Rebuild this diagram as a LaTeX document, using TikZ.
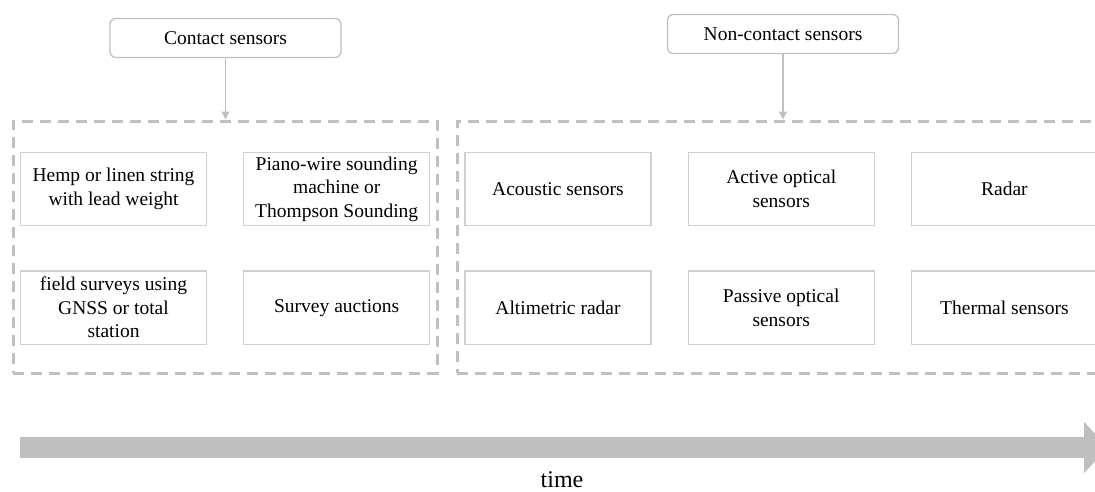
\documentclass[tikz,border=0pt]{standalone}
\usepackage{fontspec}
\setmainfont{Liberation Serif}
\usepackage{tikz}
\definecolor{FrameGray}{RGB}{192,192,192}
\definecolor{BoxGray}{RGB}{208,208,208}
\definecolor{TimeGray}{RGB}{191,191,191}
\usetikzlibrary{
	positioning,
	calc,
	arrows.meta
}

\begin{document}
\begin{tikzpicture}[
	x=1pt, y=-1pt,
	every node/.style={font=\fontsize{19.5}{23.5}\selectfont},
	group/.style={draw=FrameGray, line width=1.3pt, rounded corners=6pt, fill=white, minimum width=231pt, minimum height=39pt, inner sep=0pt},
	item/.style={draw=BoxGray, line width=1.2pt, minimum width=186pt, minimum height=73.5pt, inner sep=0pt, align=center},
	frame/.style={draw=FrameGray, line width=3pt, dash pattern=on 11pt off 7pt, minimum height=252pt, inner sep=0pt},
	link/.style={draw=FrameGray, line width=1.2pt, -{Triangle[length=8pt,width=8pt]}},
	timeline/.style={draw=TimeGray, line width=21pt, -{Triangle[length=24pt,width=50pt]}}
]
	\useasboundingbox (0,0) rectangle (1095,491);
	\begin{scope}
	\clip (0,0) rectangle (1095,491);

	% categories
	\node[group] (contact) at (225.5,38) {Contact sensors};
	\node[group] (noncontact) at (783,34) {Non-contact sensors};

	% contact sensors
	\node[frame, minimum width=424pt] (contactframe) at (225,247) {};
	\node[item] (hemp) at (113.5,189) {Hemp or linen string\\with lead weight};
	\node[item, right=36pt of hemp] (piano) {Piano-wire sounding\\machine or\\Thompson Sounding};
	\node[item, below=44pt of hemp] (field) {field surveys using\\GNSS or total\\station};
	\node[item, right=36pt of field] (auctions) {Survey auctions};

	% non-contact sensors
	\node[frame, minimum width=650pt] (noncontactframe) at (782,247) {};
	\node[item] (acoustic) at (558,189) {Acoustic sensors};
	\node[item, right=36pt of acoustic] (activeopt) {Active optical\\sensors};
	\node[item, right=36pt of activeopt] (radar) {Radar};
	\node[item, below=44pt of acoustic] (altimetric) {Altimetric radar};
	\node[item, right=36pt of altimetric] (passiveopt) {Passive optical\\sensors};
	\node[item, right=36pt of passiveopt] (thermal) {Thermal sensors};

	\draw[link] (contact.south) -- (contact.south |- contactframe.north);
	\draw[link] (noncontact.south) -- (noncontact.south |- noncontactframe.north);

	% time axis
	\coordinate (tstart) at (20,447.5);
	\coordinate (tend) at (1108,447.5);
	\draw[timeline] (tstart) -- (tend);
	\node[font=\fontsize{24}{28}\selectfont, anchor=base, inner sep=1pt] (time) at (562,487) {time};
	\end{scope}

\end{tikzpicture}
\end{document}
